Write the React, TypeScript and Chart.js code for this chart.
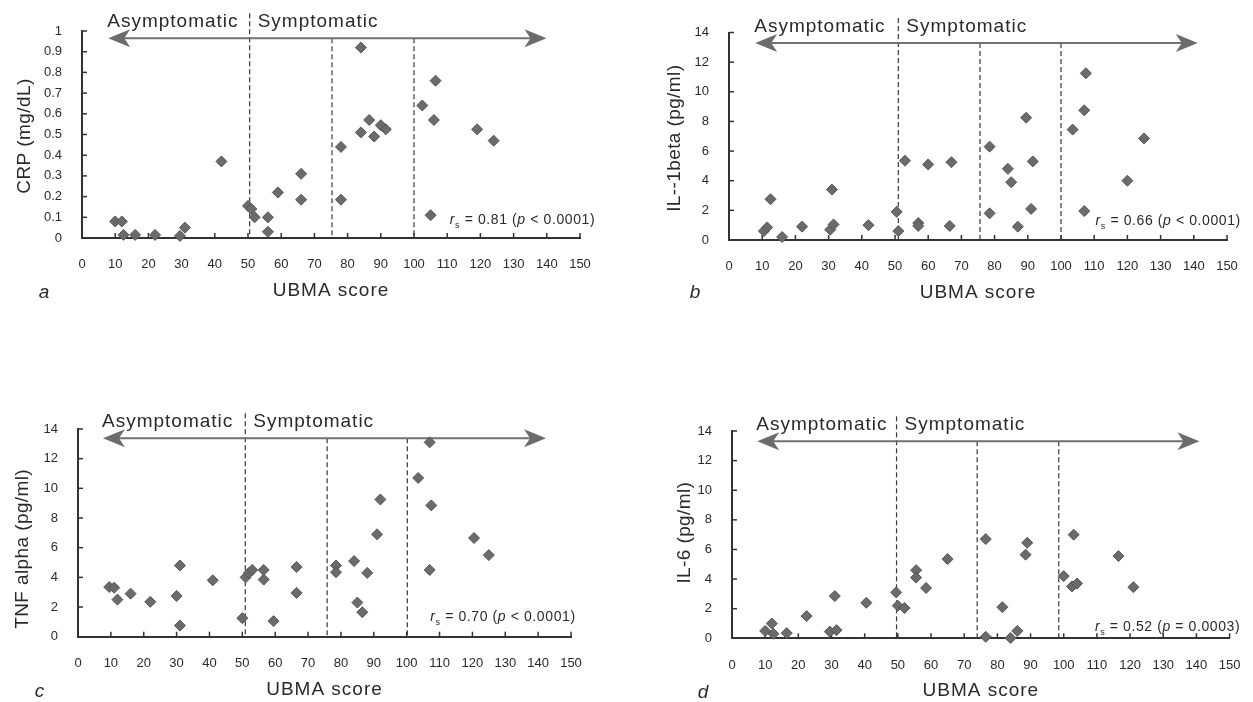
import React, { useEffect, useRef } from 'react';
import { Chart, registerables } from 'chart.js';

Chart.register(...registerables);

// ---------- DATA ----------
// x-axis (UBMA score) tick labels
const xTickMin = 0;
const xTickMax = 150;
const xTickStep = 10;

// Panel a: CRP (mg/dL)
const crpUbma = [10, 12, 12.5, 16, 22, 29.5, 31, 42, 50, 51, 52, 56, 56, 59, 66, 66, 78, 78, 84, 84, 86.5, 88, 90, 91.5, 102.5, 106.5, 106, 105, 119, 124];
const crpValues = [0.08, 0.08, 0.015, 0.015, 0.015, 0.01, 0.05, 0.37, 0.155, 0.14, 0.1, 0.1, 0.03, 0.22, 0.31, 0.185, 0.44, 0.185, 0.92, 0.51, 0.57, 0.49, 0.545, 0.525, 0.64, 0.76, 0.57, 0.11, 0.525, 0.47];

// Panel b: IL-1beta (pg/ml)
const il1Ubma = [10.5, 11.5, 12.5, 16, 22, 30.5, 31.5, 31, 42, 50.5, 51, 53, 57, 57, 60, 67, 66.5, 78.5, 78.5, 84, 85, 87, 89.5, 91.5, 91, 103.5, 107.5, 107, 107, 120, 125];
const il1Values = [0.6, 0.85, 2.75, 0.2, 0.9, 0.7, 1.05, 3.4, 1.0, 1.9, 0.6, 5.35, 1.15, 0.95, 5.1, 5.25, 0.95, 6.3, 1.8, 4.8, 3.9, 0.9, 8.25, 5.3, 2.1, 7.45, 11.25, 8.75, 1.95, 4.0, 6.85];

// Panel c: TNF alpha (pg/ml)
const tnfUbma = [9.5, 11, 12, 16, 22, 30, 31, 31, 41, 50, 51, 52, 53, 56.5, 56.5, 59.5, 66.5, 66.5, 78.5, 78.5, 84, 85, 86.5, 88, 91, 92, 103.5, 107, 107.5, 107, 120.5, 125];
const tnfValues = [3.35, 3.3, 2.5, 2.9, 2.35, 2.75, 4.8, 0.75, 3.8, 1.25, 4.0, 4.3, 4.5, 4.5, 3.85, 1.05, 4.7, 2.95, 4.8, 4.35, 5.1, 2.3, 1.65, 4.3, 6.9, 9.25, 10.7, 13.1, 8.85, 4.5, 6.65, 5.5];

// Panel d: IL-6 (pg/ml)
const il6Ubma = [10, 12, 12.5, 16.5, 22.5, 29.5, 31.5, 31, 40.5, 49.5, 50, 52, 55.5, 55.5, 58.5, 65, 76.5, 76.5, 81.5, 84, 86, 88.5, 89, 100, 103, 102.5, 104, 116.5, 121];
const il6Values = [0.5, 1.0, 0.3, 0.35, 1.5, 0.45, 0.55, 2.85, 2.4, 3.1, 2.2, 2.05, 4.6, 4.1, 3.4, 5.35, 6.7, 0.1, 2.1, 0.02, 0.5, 5.65, 6.45, 4.2, 7.0, 3.5, 3.7, 5.55, 3.45];

// y-axis ranges
const yMaxes = [1, 14, 14, 14];
const ySteps = [0.1, 2, 2, 2];

// Vertical dashed category boundaries (UBMA score)
const dashA = [50.5, 75.3, 100];
const dashB = [51, 75.6, 100];
const dashC = [50.9, 75.8, 100.2];
const dashD = [49.6, 73.9, 98.5];

// Double arrow: [left end, right end, y level]
const arrowA = [7.9, 139.9, 0.965];
const arrowB = [7.9, 141.2, 13.3];
const arrowC = [7.6, 142.4, 13.37];
const arrowD = [7.6, 140.9, 13.31];

// Spearman annotations
const rsValues = ['0.81', '0.66', '0.70', '0.52'];
const pValues = ['< 0.0001', '< 0.0001', '< 0.0001', '= 0.0003'];
const rsAnchorX = [110.8, 110.4, 107.2, 109.4];
const rsAnchorY = [0.07, 1.0, 1.07, 0.51];

// Texts
const yTitles = ['CRP (mg/dL)', 'IL--1beta (pg/ml)', 'TNF alpha (pg/ml)', 'IL-6 (pg/ml)'];
const panelLetters = ['a', 'b', 'c', 'd'];
const xTitle = 'UBMA score';
const leftLabel = 'Asymptomatic';
const rightLabel = 'Symptomatic';

// ---------- LAYOUT (positions/styles) ----------
const FONT = '"Liberation Sans", Arial, Helvetica, sans-serif';
const TEXT = '#2a2a2a';

type Layout = {
  left: number; top: number; w: number; h: number;
  l: number; r: number; t: number; b: number;
  titleX: number; titleDY: number;
  letterX: number; letterY: number;
};

const layouts: Layout[] = [
  { left: 0, top: 0, w: 626, h: 351, l: 82, r: 580, t: 31, b: 238, titleX: 24.5, titleDY: 1.5, letterX: 44, letterY: 298 },
  { left: 626, top: 0, w: 627, h: 351, l: 103, r: 601, t: 32.5, b: 240, titleX: 48.5, titleDY: 2, letterX: 69, letterY: 298 },
  { left: 0, top: 351, w: 626, h: 351, l: 78, r: 571, t: 78, b: 285.7, titleX: 22.7, titleDY: 16, letterX: 39.5, letterY: 345.7 },
  { left: 626, top: 351, w: 627, h: 351, l: 106, r: 603.6, t: 80, b: 287.3, titleX: 58.6, titleDY: -2, letterX: 77, letterY: 347 },
];

const xsData = [crpUbma, il1Ubma, tnfUbma, il6Ubma];
const ysData = [crpValues, il1Values, tnfValues, il6Values];
const dashes = [dashA, dashB, dashC, dashD];
const arrows = [arrowA, arrowB, arrowC, arrowD];

const Y_W = 40;
const X_H = 50;

function makeOverlay(i: number) {
  return {
    id: 'overlay' + i,
    beforeDatasetsDraw(chart: any) {
      const ctx: CanvasRenderingContext2D = chart.ctx;
      const xs = chart.scales.x;
      const ys = chart.scales.y;
      const ca = chart.chartArea;
      ctx.save();
      // inward tick marks
      ctx.strokeStyle = '#333';
      ctx.lineWidth = 1.5;
      xs.ticks.forEach((t: any) => {
        if (t.value === 0) return;
        const px = xs.getPixelForValue(t.value);
        ctx.beginPath();
        ctx.moveTo(px, ca.bottom);
        ctx.lineTo(px, ca.bottom - 5);
        ctx.stroke();
      });
      ys.ticks.forEach((t: any) => {
        if (t.value === 0) return;
        const py = ys.getPixelForValue(t.value);
        ctx.beginPath();
        ctx.moveTo(ca.left, py);
        ctx.lineTo(ca.left + 5, py);
        ctx.stroke();
      });
      // arrow
      const ar = arrows[i];
      const yA = ys.getPixelForValue(ar[2]);
      const xL = xs.getPixelForValue(ar[0]);
      const xR = xs.getPixelForValue(ar[1]);
      // dashed lines
      ctx.setLineDash([5, 3]);
      ctx.strokeStyle = '#383838';
      ctx.lineWidth = 1.2;
      dashes[i].forEach((d, k) => {
        const px = xs.getPixelForValue(d);
        const top = k === 0 ? yA - 25 : yA;
        ctx.beginPath();
        ctx.moveTo(px, top);
        ctx.lineTo(px, ca.bottom);
        ctx.stroke();
      });
      ctx.setLineDash([]);
      ctx.strokeStyle = '#707070';
      ctx.lineWidth = 2;
      ctx.beginPath();
      ctx.moveTo(xL + 14, yA);
      ctx.lineTo(xR - 14, yA);
      ctx.stroke();
      ctx.fillStyle = '#6c6c6c';
      const head = (tip: number, dir: number) => {
        ctx.beginPath();
        ctx.moveTo(tip, yA);
        ctx.lineTo(tip + dir * 22, yA - 9);
        ctx.lineTo(tip + dir * 16, yA);
        ctx.lineTo(tip + dir * 22, yA + 9);
        ctx.closePath();
        ctx.fill();
      };
      head(xL, 1);
      head(xR, -1);
      ctx.restore();
    },
    afterDatasetsDraw(chart: any) {
      const ctx: any = chart.ctx;
      const xs = chart.scales.x;
      const ys = chart.scales.y;
      const ca = chart.chartArea;
      const lay = layouts[i];
      const ar = arrows[i];
      const yA = ys.getPixelForValue(ar[2]);
      const xL = xs.getPixelForValue(ar[0]);
      ctx.save();
      ctx.fillStyle = TEXT;
      ctx.textBaseline = 'alphabetic';
      ctx.textAlign = 'left';
      ctx.letterSpacing = '1px';
      ctx.font = `19px ${FONT}`;
      ctx.fillText(leftLabel, xL - 1, yA - 11);
      ctx.fillText(rightLabel, xs.getPixelForValue(dashes[i][0]) + 8, yA - 11);
      // x title
      ctx.textAlign = 'center';
      ctx.fillText(xTitle, (ca.left + ca.right) / 2, ca.bottom + 58);
      // panel letter
      ctx.letterSpacing = '0px';
      ctx.font = `italic 19px ${FONT}`;
      ctx.fillText(panelLetters[i], lay.letterX, lay.letterY);
      // y title
      ctx.save();
      ctx.letterSpacing = '0.4px';
      ctx.font = `19px ${FONT}`;
      ctx.translate(lay.titleX, (ca.top + ca.bottom) / 2 + lay.titleDY);
      ctx.rotate(-Math.PI / 2);
      ctx.textAlign = 'center';
      ctx.textBaseline = 'middle';
      ctx.fillText(yTitles[i], 0, 0);
      ctx.restore();
      // rs annotation
      ctx.textAlign = 'left';
      ctx.textBaseline = 'alphabetic';
      ctx.letterSpacing = '0.6px';
      let x = xs.getPixelForValue(rsAnchorX[i]);
      const y = ys.getPixelForValue(rsAnchorY[i]);
      const put = (s: string, font: string, dy = 0) => {
        ctx.font = font;
        ctx.fillText(s, x, y + dy);
        x += ctx.measureText(s).width;
      };
      put('r', `italic 14px ${FONT}`);
      put('s', `9px ${FONT}`, 4);
      put(` = ${rsValues[i]} (`, `14px ${FONT}`);
      put('p', `italic 14px ${FONT}`);
      put(` ${pValues[i]})`, `14px ${FONT}`);
      ctx.restore();
    },
  };
}

function Panel({ i }: { i: number }) {
  const ref = useRef<HTMLCanvasElement>(null);
  useEffect(() => {
    const lay = layouts[i];
    const pts = xsData[i].map((x, k) => ({ x, y: ysData[i][k] }));
    const chart = new Chart(ref.current as HTMLCanvasElement, {
      type: 'scatter',
      data: {
        datasets: [
          {
            data: pts,
            pointStyle: 'rectRot',
            pointRadius: 5.5,
            pointBackgroundColor: '#6b6b6b',
            pointBorderColor: '#555555',
            pointBorderWidth: 1,
            clip: false as any,
          },
        ],
      },
      options: {
        responsive: false,
        animation: false,
        events: [],
        devicePixelRatio: 1,
        layout: {
          padding: {
            left: lay.l - Y_W,
            right: lay.w - lay.r,
            top: lay.t,
            bottom: lay.h - lay.b - X_H,
          },
        },
        plugins: { legend: { display: false }, tooltip: { enabled: false } },
        scales: {
          x: {
            type: 'linear',
            min: xTickMin,
            max: xTickMax,
            afterFit: (s: any) => { s.height = X_H; },
            grid: { display: false },
            border: { display: true, color: '#333', width: 2 },
            ticks: {
              stepSize: xTickStep,
              autoSkip: false,
              maxRotation: 0,
              padding: 11,
              color: TEXT,
              font: { size: 13, family: FONT },
            },
          },
          y: {
            type: 'linear',
            min: 0,
            max: yMaxes[i],
            afterFit: (s: any) => { s.width = Y_W; },
            grid: { display: false },
            border: { display: true, color: '#333', width: 2 },
            ticks: {
              stepSize: ySteps[i],
              padding: 12,
              color: TEXT,
              font: { size: 13, family: FONT },
              callback: (v: any) => String(Math.round(Number(v) * 10) / 10),
            },
          },
        },
      },
      plugins: [makeOverlay(i)],
    });
    return () => chart.destroy();
  }, [i]);
  const lay = layouts[i];
  return (
    <canvas
      ref={ref}
      width={lay.w}
      height={lay.h}
      style={{ position: 'absolute', left: lay.left, top: lay.top, width: lay.w, height: lay.h }}
    />
  );
}

export default function App() {
  return (
    <div style={{ position: 'fixed', left: 0, top: 0, width: 1253, height: 702, background: '#ffffff', overflow: 'hidden' }}>
      {[0, 1, 2, 3].map((i) => (
        <Panel key={i} i={i} />
      ))}
    </div>
  );
}
